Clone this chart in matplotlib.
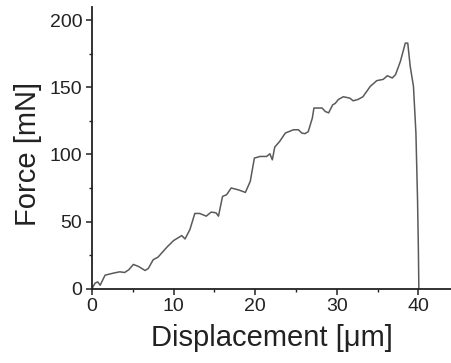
import numpy as np
import matplotlib
matplotlib.use("Agg")
import matplotlib.pyplot as plt
from matplotlib.ticker import MultipleLocator

# displacement [um] and force [mN]
disp = [0.0, 0.37, 0.7, 1.0, 1.6, 2.6, 3.4, 4.0, 4.5, 5.07, 5.7, 6.5, 6.9, 7.5,
        8.1, 9.2, 10.0, 11.0, 11.4, 12.0, 12.6, 13.2, 14.0, 14.6, 15.2, 15.5,
        16.0, 16.5, 17.06, 18.0, 18.8, 19.4, 19.9, 20.6, 21.4, 21.8, 22.1, 22.4,
        23.0, 23.7, 24.7, 25.3, 25.7, 26.1, 26.5, 27.0, 27.2, 28.2, 28.6, 29.0,
        29.5, 29.8, 30.2, 30.8, 31.6, 32.0, 32.6, 33.2, 34.1, 34.9, 35.7, 36.2,
        36.8, 37.2, 37.8, 38.4, 38.7, 39.0, 39.4, 39.7, 39.9, 40.0, 40.06]
force = [0.0, 4.0, 5.0, 2.5, 10.0, 11.5, 12.5, 12.0, 14.0, 18.0, 16.5, 13.5, 15.0,
         21.5, 23.5, 31.0, 35.8, 39.5, 37.0, 44.0, 56.0, 56.0, 54.0, 57.0, 56.5,
         54.0, 68.7, 70.0, 75.0, 73.5, 71.7, 80.0, 97.3, 98.5, 98.5, 100.5, 96.0,
         105.5, 109.7, 116.0, 118.4, 118.4, 116.0, 115.5, 117.0, 127.0, 134.6,
         134.6, 132.0, 131.0, 137.0, 138.0, 141.0, 143.0, 142.0, 140.0, 141.0,
         143.0, 150.7, 155.0, 156.0, 158.7, 157.0, 159.5, 169.4, 183.0, 183.0,
         165.7, 150.7, 116.0, 66.0, 30.0, 0.0]

plt.rcParams['font.family'] = ['Liberation Sans', 'DejaVu Sans']

fig = plt.figure(figsize=(4.51, 3.63), dpi=100)
ax = fig.add_axes([0.204, 0.205, 0.796, 0.776])

ax.plot(disp, force, color='#5a5a5a', lw=1.1)

ax.set_xlim(0, 44)
ax.set_ylim(0, 210)
ax.xaxis.set_major_locator(MultipleLocator(10))
ax.xaxis.set_minor_locator(MultipleLocator(5))
ax.yaxis.set_major_locator(MultipleLocator(50))
ax.yaxis.set_minor_locator(MultipleLocator(25))

for s in ['top', 'right']:
    ax.spines[s].set_visible(False)
for s in ['left', 'bottom']:
    ax.spines[s].set_linewidth(1.3)
    ax.spines[s].set_color('#222222')

ax.tick_params(which='major', length=4, width=1.1, labelsize=14, colors='#222222', pad=3)
ax.tick_params(which='minor', length=2, width=1.0, colors='#222222')

ax.set_xlabel('Displacement [μm]', fontsize=21, labelpad=6, color='#222222')
ax.set_ylabel('Force [mN]', fontsize=21, labelpad=6, color='#222222')
ax.yaxis.set_label_coords(-0.14, 0.478)

fig.savefig('out.png', dpi=100)
